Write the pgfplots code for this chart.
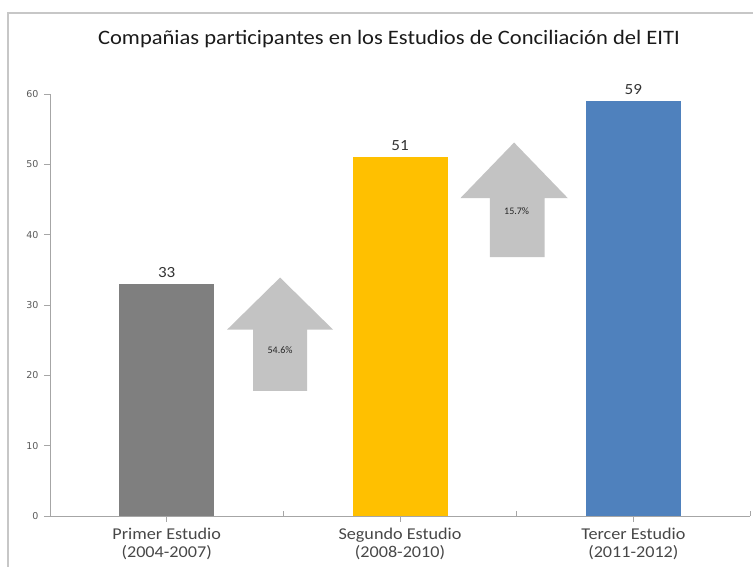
\documentclass[border=0pt]{standalone}
\usepackage{pgfplots}
\pgfplotsset{compat=1.18}
\usepackage{fontspec}
\setmainfont{Carlito}
\newfontfamily\titlefont[FakeStretch=1.1]{Carlito}
\newfontfamily\numfont{DejaVu Sans}
\definecolor{barGray}{HTML}{7F7F7F}
\definecolor{barYellow}{HTML}{FFC000}
\definecolor{barBlue}{HTML}{4F81BD}
\definecolor{arrowGray}{HTML}{C3C3C3}
\definecolor{axisGray}{HTML}{A6A6A6}
\definecolor{txt}{HTML}{1A1A1A}
\begin{document}
\begin{tikzpicture}[x=1pt,y=1pt]
\useasboundingbox (0pt,0pt) rectangle (753pt,567pt);
\clip (0pt,0pt) rectangle (753pt,567pt);
\draw[color=black!22, line width=1.2pt] (8pt,-20pt) rectangle (780pt,554pt);
\node[font=\titlefont\fontsize{20.5}{22}\selectfont, text=txt] at (389pt,528pt) {Compañias participantes en los Estudios de Conciliación del EITI};
\begin{axis}[
  at={(50pt,51pt)}, anchor=south west,
  width=700pt, height=422pt, scale only axis,
  xmin=-0.5, xmax=2.5, ymin=0, ymax=60,
  axis lines*=left,
  axis line style={axisGray, line width=0.9pt},
  xtick={0,1,2},
  xticklabels={{Primer Estudio\\(2004-2007)},{Segundo Estudio\\(2008-2010)},{Tercer Estudio\\(2011-2012)}},
  xticklabel style={align=center, font=\titlefont\fontsize{16.5}{18}\selectfont, text=black!72, yshift=-3pt},
  extra x ticks={0.5,1.5,2.5},
  extra x tick labels={},
  extra x tick style={tick align=inside, major tick length=5pt},
  ytick={0,10,...,60},
  yticklabel style={font=\numfont\fontsize{9.5}{10}\selectfont, text=black!65, xshift=-2pt},
  /pgf/number format/assume math mode=true,
  tick align=outside,
  major tick length=6pt,
  tick style={axisGray, line width=0.8pt},
  clip=false,
  nodes near coords style={font=\titlefont\fontsize{15.5}{17}\selectfont, text=black!80, yshift=3pt},
]
\addplot[fill=arrowGray, draw=none] coordinates {(0.370,17.8) (0.602,17.8) (0.602,26.5) (0.713,26.5) (0.486,33.9) (0.259,26.5) (0.370,26.5)} --cycle;
\addplot[fill=arrowGray, draw=none] coordinates {(1.385,36.8) (1.620,36.8) (1.620,45.2) (1.719,45.2) (1.489,53.1) (1.259,45.2) (1.385,45.2)} --cycle;
\node[font=\fontsize{10}{11}\selectfont, text=black!85] at (axis cs:0.486,23.6) {54.6\%};
\node[font=\fontsize{10}{11}\selectfont, text=black!85] at (axis cs:1.500,43.3) {15.7\%};
\addplot[ybar, bar width=95pt, bar shift=0pt, fill=barGray, draw=none, nodes near coords] coordinates {(0,33)};
\addplot[ybar, bar width=95pt, bar shift=0pt, fill=barYellow, draw=none, nodes near coords] coordinates {(1,51)};
\addplot[ybar, bar width=95pt, bar shift=0pt, fill=barBlue, draw=none, nodes near coords] coordinates {(2,59)};
\end{axis}
\end{tikzpicture}
\end{document}
